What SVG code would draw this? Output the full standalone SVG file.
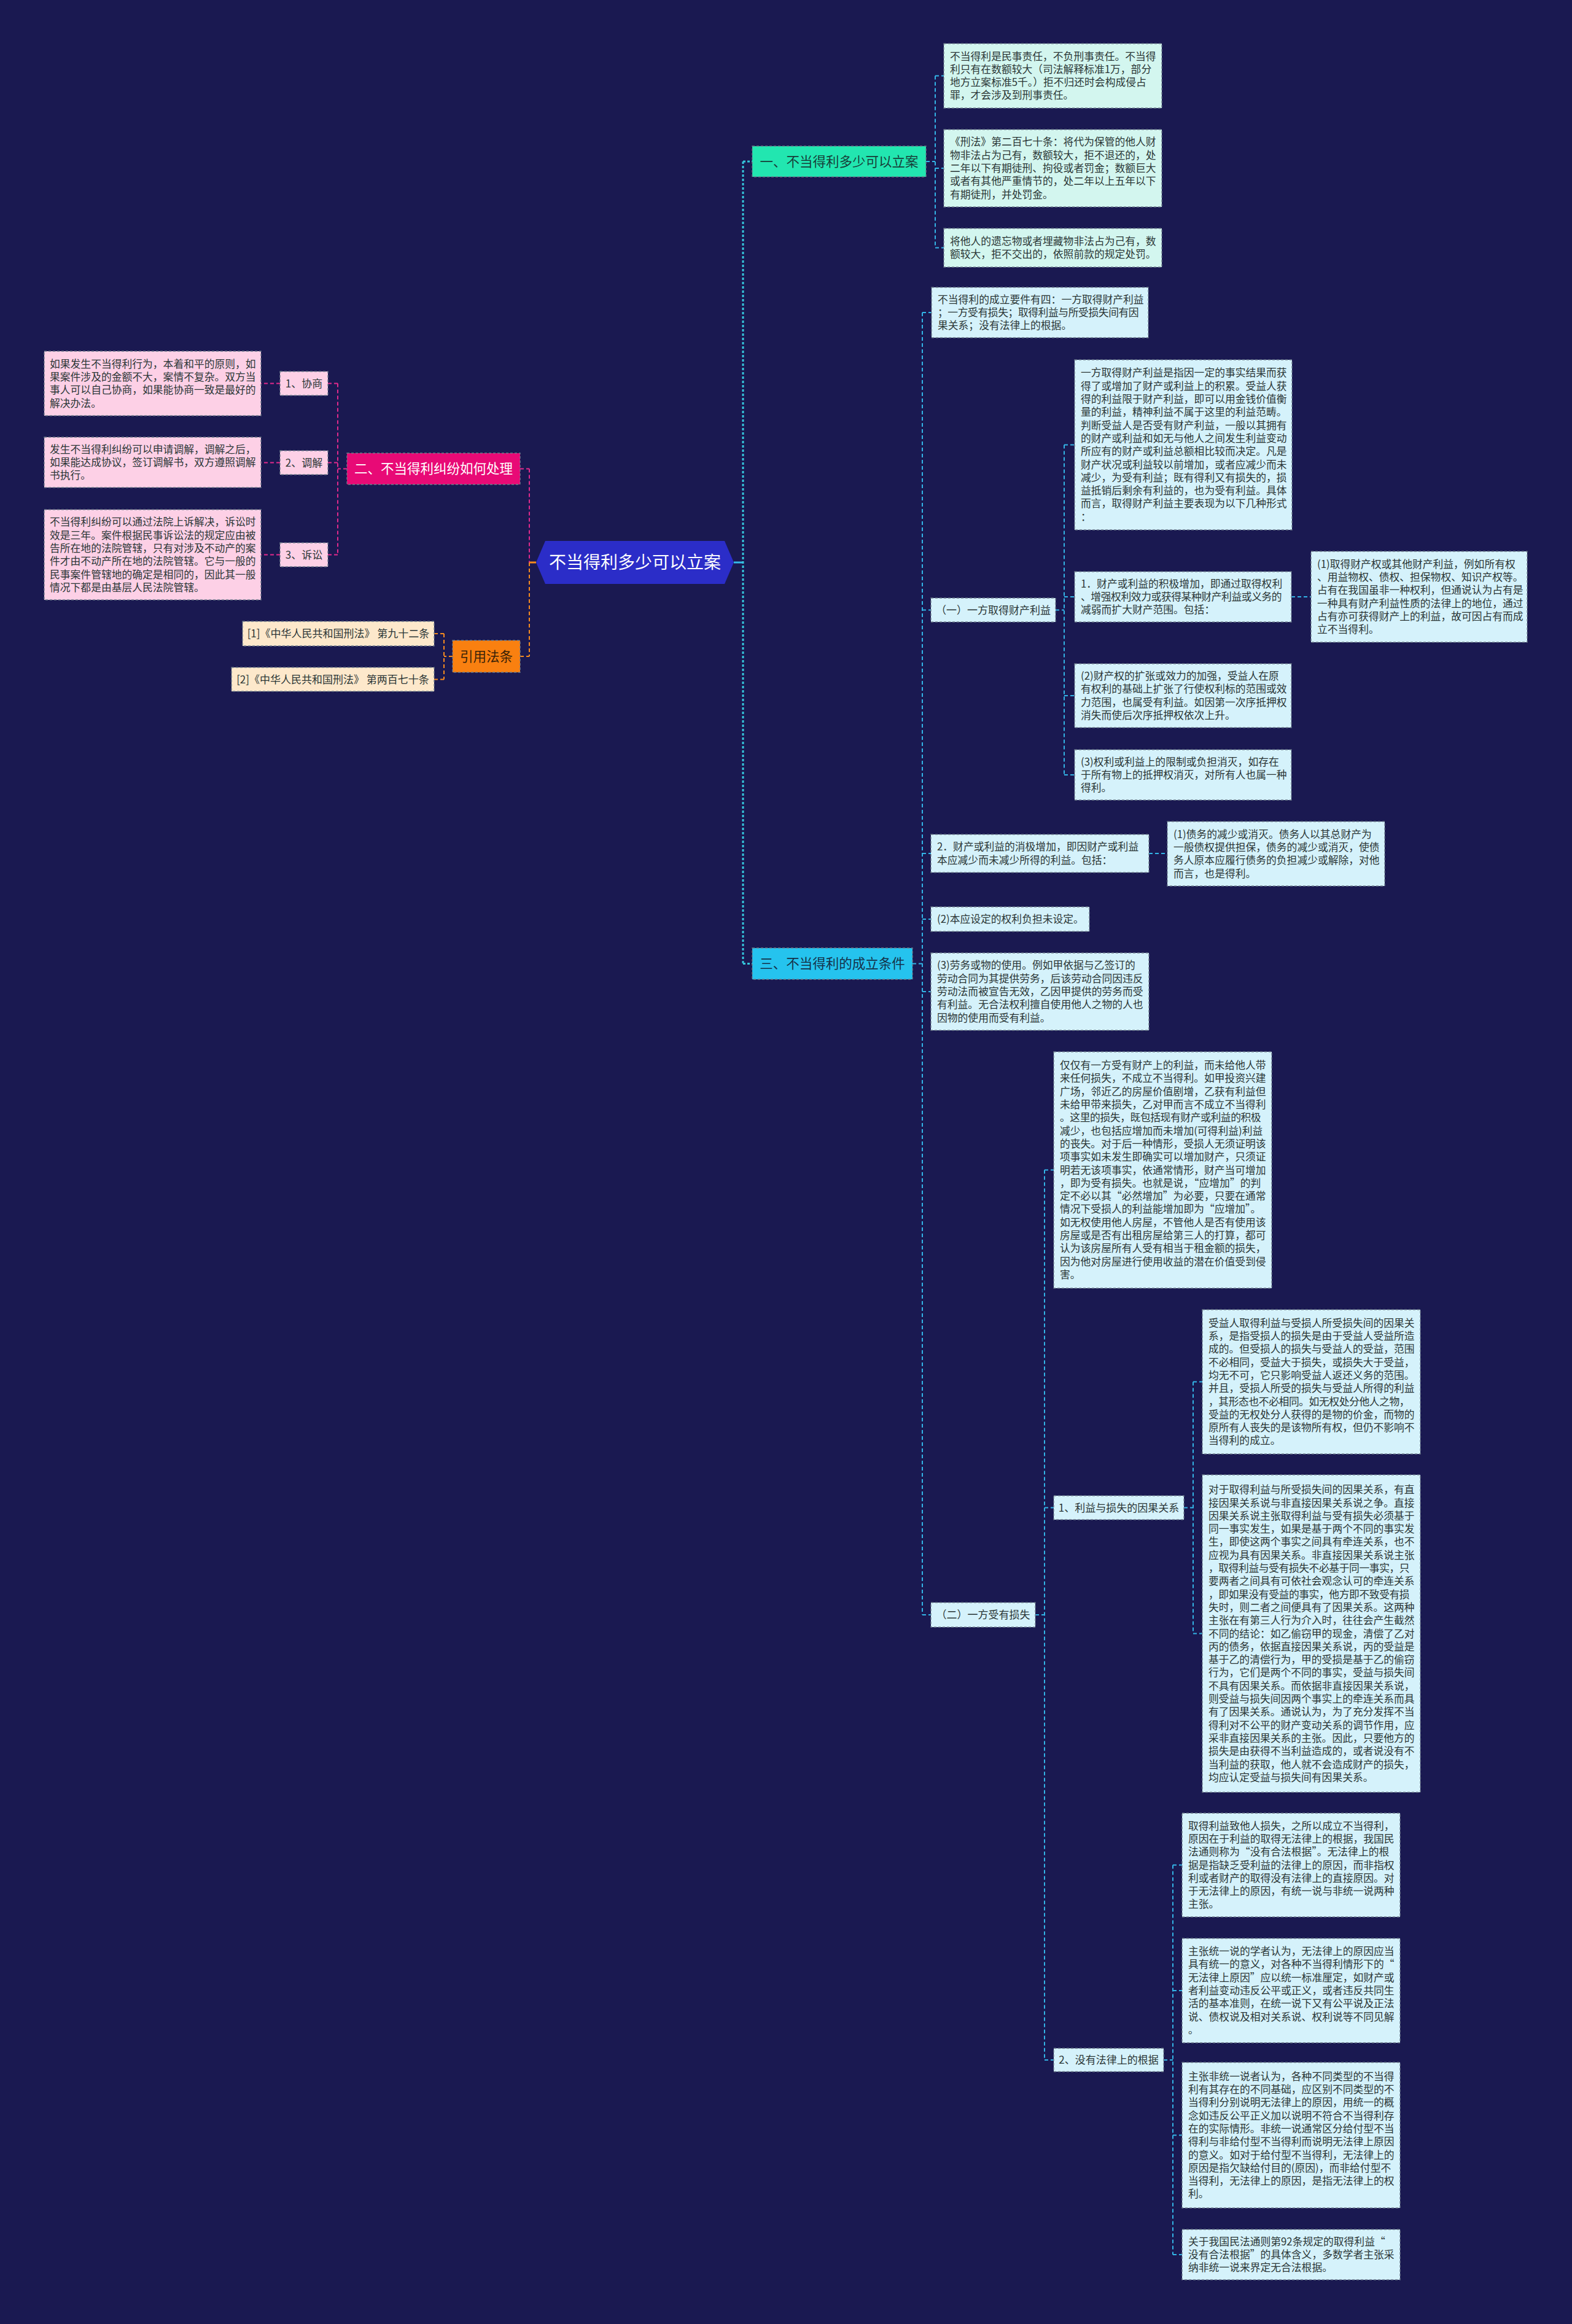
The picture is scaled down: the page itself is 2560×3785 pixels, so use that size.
<svg xmlns="http://www.w3.org/2000/svg" width="2560" height="3785" viewBox="0 0 2560 3785">
<style>
.t{font-family:"Noto Sans CJK SC","Noto Sans",sans-serif;font-size:16.8px;fill:#2b3636}
.lb{font-family:"Noto Sans CJK SC","Noto Sans",sans-serif;font-size:17px;fill:#2b3636;text-anchor:middle}
.br{font-family:"Noto Sans CJK SC","Noto Sans",sans-serif;font-size:21.5px;text-anchor:middle}
.bd{stroke:#6d7c8c;stroke-width:1.3;stroke-dasharray:4 3}
.mint{fill:#d3f6ef}
.cyan{fill:#d5f2fb}
.pink{fill:#fdd0e6}
.cream{fill:#fde8cb}
.sq{letter-spacing:-0.42px}
.cr{fill:none;stroke:#33b4e6;stroke-width:2;stroke-dasharray:6 4}
.ct{fill:none;stroke:#35c6dc;stroke-width:3;stroke-dasharray:4 3}
.cm{fill:none;stroke:#e22a8c;stroke-width:2;stroke-dasharray:6 4}
.co{fill:none;stroke:#f58a1f;stroke-width:2;stroke-dasharray:6 4}
</style>
<rect x="0" y="0" width="2560" height="3785" fill="#1a1951"/>

<g id="connectors">
  <path d="M1195,916 H1210" fill="none" stroke="#35b9ea" stroke-width="3"/>
  <path class="ct" d="M1210,263 V1569.5 M1210,263 H1225 M1210,1569.5 H1225"/>
  <path class="cr" d="M1508,263 H1523 M1523,123.5 V403.5 M1523,123.5 H1537 M1523,274 H1537 M1523,403.5 H1537"/>
  <path class="cr" d="M1486,1569.5 H1502 M1502,509 V2630 M1502,509 H1517 M1502,993.5 H1516 M1502,1390 H1516 M1502,1497 H1516 M1502,1615 H1516 M1502,2630 H1516"/>
  <path class="cr" d="M1719,993.5 H1733 M1733,724.5 V1262 M1733,724.5 H1750 M1733,972 H1750 M1733,1133 H1750 M1733,1262 H1750"/>
  <path class="cr" d="M2103,972 H2135"/>
  <path class="cr" d="M1871,1390 H1901"/>
  <path class="cr" d="M1686,2630 H1701 M1701,1905.5 V3355 M1701,1905.5 H1716 M1701,2455.5 H1716 M1701,3355 H1716"/>
  <path class="cr" d="M1928,2455.5 H1943 M1943,2250.5 V2660.5 M1943,2250.5 H1958 M1943,2660.5 H1958"/>
  <path class="cr" d="M1895,3355 H1910 M1910,3037.5 V3672 M1910,3037.5 H1925 M1910,3242 H1925 M1910,3477.5 H1925 M1910,3672 H1925"/>
  <path d="M873,916 H862" fill="none" stroke="#f58a1f" stroke-width="3"/>
  <path class="cm" d="M862,763.5 V916 M847,763.5 H862"/>
  <path class="co" d="M862,916 V1069 M847,1069 H862"/>
  <path class="cm" d="M565,763.5 H550 M550,624.5 V903.5 M550,624.5 H534 M550,753.5 H534 M550,903.5 H534 M456,624.5 H425 M456,753.5 H425 M456,903.5 H425"/>
  <path class="co" d="M737,1069 H723 M723,1032 V1106.5 M723,1032 H707 M723,1106.5 H707"/>
</g>

<g id="root">
  <polygon points="873,916 888,881 1180,881 1195,916 1180,951 888,951" fill="#2b2dc8"/>
  <text x="1034" y="926" font-family="Noto Sans CJK SC, Noto Sans, sans-serif" font-size="28" fill="#ffffff" text-anchor="middle">不当得利多少可以立案</text>
</g>

<g id="branch1">
  <rect class="bd" x="1225" y="238" width="283" height="50" fill="#22e6b0"/>
  <text class="br" x="1366.5" y="270.5" fill="#17403a">一、不当得利多少可以立案</text>
</g>
<g id="branch3">
  <rect class="bd" x="1225" y="1544" width="261" height="51" fill="#25c3ee"/>
  <text class="br" x="1355.5" y="1577" fill="#15324a">三、不当得利的成立条件</text>
</g>
<g id="branch2">
  <rect class="bd" x="565" y="738" width="282" height="51" fill="#e80a76"/>
  <text class="br" x="706" y="771" fill="#ffffff">二、不当得利纠纷如何处理</text>
</g>
<g id="branch-law">
  <rect class="bd" x="737" y="1043" width="110" height="52" fill="#f98010"/>
  <text class="br" x="792" y="1076.5" fill="#3a2208">引用法条</text>
</g>

<g id="n-1a">
  <rect class="bd mint" x="1537" y="71" width="355" height="105"/>
  <text class="t" x="1547" y="97.5"><tspan x="1547">不当得利是民事责任，不负刑事责任。不当得</tspan><tspan x="1547" dy="21.3">利只有在数额较大（司法解释标准1万，部分</tspan><tspan x="1547" dy="21.3">地方立案标准5千。）拒不归还时会构成侵占</tspan><tspan x="1547" dy="21.3">罪，才会涉及到刑事责任。</tspan></text>
</g>
<g id="n-1b">
  <rect class="bd mint" x="1537" y="211" width="355" height="126"/>
  <text class="t" x="1547" y="237.4"><tspan x="1547">《刑法》第二百七十条：将代为保管的他人财</tspan><tspan x="1547" dy="21.3">物非法占为己有，数额较大，拒不退还的，处</tspan><tspan x="1547" dy="21.3">二年以下有期徒刑、拘役或者罚金；数额巨大</tspan><tspan x="1547" dy="21.3">或者有其他严重情节的，处二年以上五年以下</tspan><tspan x="1547" dy="21.3">有期徒刑，并处罚金。</tspan></text>
</g>
<g id="n-1c">
  <rect class="bd mint" x="1537" y="372" width="355" height="63"/>
  <text class="t" x="1547" y="398.9"><tspan x="1547">将他人的遗忘物或者埋藏物非法占为己有，数</tspan><tspan x="1547" dy="21.3">额较大，拒不交出的，依照前款的规定处罚。</tspan></text>
</g>

<g id="n-3a">
  <rect class="bd cyan" x="1517" y="468" width="353" height="82"/>
  <text class="t" x="1527" y="493.7"><tspan x="1527">不当得利的成立要件有四：一方取得财产利益</tspan><tspan x="1527" dy="21.3" class="sq">；一方受有损失；取得利益与所受损失间有因</tspan><tspan x="1527" dy="21.3">果关系；没有法律上的根据。</tspan></text>
</g>
<g id="n-3-yi">
  <rect class="bd cyan" x="1516" y="974" width="203" height="39"/>
  <text class="lb" x="1617.5" y="999.5">（一）一方取得财产利益</text>
</g>
<g id="n-3b">
  <rect class="bd cyan" x="1750" y="586" width="354" height="277"/>
  <text class="t" x="1760" y="613.4"><tspan x="1760">一方取得财产利益是指因一定的事实结果而获</tspan><tspan x="1760" dy="21.3">得了或增加了财产或利益上的积累。受益人获</tspan><tspan x="1760" dy="21.3">得的利益限于财产利益，即可以用金钱价值衡</tspan><tspan x="1760" dy="21.3">量的利益，精神利益不属于这里的利益范畴。</tspan><tspan x="1760" dy="21.3">判断受益人是否受有财产利益，一般以其拥有</tspan><tspan x="1760" dy="21.3">的财产或利益和如无与他人之间发生利益变动</tspan><tspan x="1760" dy="21.3">所应有的财产或利益总额相比较而决定。凡是</tspan><tspan x="1760" dy="21.3">财产状况或利益较以前增加，或者应减少而未</tspan><tspan x="1760" dy="21.3">减少，为受有利益；既有得利又有损失的，损</tspan><tspan x="1760" dy="21.3">益抵销后剩余有利益的，也为受有利益。具体</tspan><tspan x="1760" dy="21.3">而言，取得财产利益主要表现为以下几种形式</tspan><tspan x="1760" dy="21.3">：</tspan></text>
</g>
<g id="n-3c">
  <rect class="bd cyan" x="1750" y="931" width="353" height="82"/>
  <text class="t" x="1760" y="956.7"><tspan x="1760">1．财产或利益的积极增加，即通过取得权利</tspan><tspan x="1760" dy="21.3" class="sq">、增强权利效力或获得某种财产利益或义务的</tspan><tspan x="1760" dy="21.3">减弱而扩大财产范围。包括：</tspan></text>
</g>
<g id="n-3d">
  <rect class="bd cyan" x="2135" y="898" width="352" height="148"/>
  <text class="t" x="2145" y="924.8"><tspan x="2145">(1)取得财产权或其他财产利益，例如所有权</tspan><tspan x="2145" dy="21.3">、用益物权、债权、担保物权、知识产权等。</tspan><tspan x="2145" dy="21.3">占有在我国虽非一种权利，但通说认为占有是</tspan><tspan x="2145" dy="21.3">一种具有财产利益性质的法律上的地位，通过</tspan><tspan x="2145" dy="21.3">占有亦可获得财产上的利益，故可因占有而成</tspan><tspan x="2145" dy="21.3">立不当得利。</tspan></text>
</g>
<g id="n-3e">
  <rect class="bd cyan" x="1750" y="1081" width="353" height="104"/>
  <text class="t" x="1760" y="1107"><tspan x="1760">(2)财产权的扩张或效力的加强，受益人在原</tspan><tspan x="1760" dy="21.3">有权利的基础上扩张了行使权利标的范围或效</tspan><tspan x="1760" dy="21.3">力范围，也属受有利益。如因第一次序抵押权</tspan><tspan x="1760" dy="21.3">消失而使后次序抵押权依次上升。</tspan></text>
</g>
<g id="n-3f">
  <rect class="bd cyan" x="1750" y="1221" width="353" height="82"/>
  <text class="t" x="1760" y="1246.7"><tspan x="1760">(3)权利或利益上的限制或负担消灭，如存在</tspan><tspan x="1760" dy="21.3">于所有物上的抵押权消灭，对所有人也属一种</tspan><tspan x="1760" dy="21.3">得利。</tspan></text>
</g>
<g id="n-3g">
  <rect class="bd cyan" x="1516" y="1359" width="355" height="62"/>
  <text class="t" x="1526" y="1385.4"><tspan x="1526">2．财产或利益的消极增加，即因财产或利益</tspan><tspan x="1526" dy="21.3">本应减少而未减少所得的利益。包括：</tspan></text>
</g>
<g id="n-3h">
  <rect class="bd cyan" x="1901" y="1338" width="354" height="105"/>
  <text class="t" x="1911" y="1364.6"><tspan x="1911">(1)债务的减少或消灭。债务人以其总财产为</tspan><tspan x="1911" dy="21.3">一般债权提供担保，债务的减少或消灭，使债</tspan><tspan x="1911" dy="21.3">务人原本应履行债务的负担减少或解除，对他</tspan><tspan x="1911" dy="21.3">而言，也是得利。</tspan></text>
</g>
<g id="n-3i">
  <rect class="bd cyan" x="1516" y="1477" width="258" height="40"/>
  <text class="t" x="1526" y="1503">(2)本应设定的权利负担未设定。</text>
</g>
<g id="n-3j">
  <rect class="bd cyan" x="1516" y="1552" width="355" height="126"/>
  <text class="t" x="1526" y="1578.4"><tspan x="1526">(3)劳务或物的使用。例如甲依据与乙签订的</tspan><tspan x="1526" dy="21.3">劳动合同为其提供劳务，后该劳动合同因违反</tspan><tspan x="1526" dy="21.3">劳动法而被宣告无效，乙因甲提供的劳务而受</tspan><tspan x="1526" dy="21.3">有利益。无合法权利擅自使用他人之物的人也</tspan><tspan x="1526" dy="21.3">因物的使用而受有利益。</tspan></text>
</g>
<g id="n-3-er">
  <rect class="bd cyan" x="1516" y="2610" width="170" height="40"/>
  <text class="lb" x="1601" y="2636">（二）一方受有损失</text>
</g>
<g id="n-3k">
  <rect class="bd cyan" x="1716" y="1713" width="355" height="385"/>
  <text class="t" x="1726" y="1741.1"><tspan x="1726">仅仅有一方受有财产上的利益，而未给他人带</tspan><tspan x="1726" dy="21.3">来任何损失，不成立不当得利。如甲投资兴建</tspan><tspan x="1726" dy="21.3">广场，邻近乙的房屋价值剧增，乙获有利益但</tspan><tspan x="1726" dy="21.3">未给甲带来损失，乙对甲而言不成立不当得利</tspan><tspan x="1726" dy="21.3" class="sq">。这里的损失，既包括现有财产或利益的积极</tspan><tspan x="1726" dy="21.3">减少，也包括应增加而未增加(可得利益)利益</tspan><tspan x="1726" dy="21.3">的丧失。对于后一种情形，受损人无须证明该</tspan><tspan x="1726" dy="21.3">项事实如未发生即确实可以增加财产，只须证</tspan><tspan x="1726" dy="21.3">明若无该项事实，依通常情形，财产当可增加</tspan><tspan x="1726" dy="21.3">，即为受有损失。也就是说，“应增加”的判</tspan><tspan x="1726" dy="21.3">定不必以其“必然增加”为必要，只要在通常</tspan><tspan x="1726" dy="21.3">情况下受损人的利益能增加即为“应增加”。</tspan><tspan x="1726" dy="21.3">如无权使用他人房屋，不管他人是否有使用该</tspan><tspan x="1726" dy="21.3">房屋或是否有出租房屋给第三人的打算，都可</tspan><tspan x="1726" dy="21.3">认为该房屋所有人受有相当于租金额的损失，</tspan><tspan x="1726" dy="21.3">因为他对房屋进行使用收益的潜在价值受到侵</tspan><tspan x="1726" dy="21.3">害。</tspan></text>
</g>
<g id="n-3-l1">
  <rect class="bd cyan" x="1716" y="2436" width="212" height="39"/>
  <text class="lb" x="1822" y="2461.5">1、利益与损失的因果关系</text>
</g>
<g id="n-3l">
  <rect class="bd cyan" x="1958" y="2133" width="355" height="235"/>
  <text class="t" x="1968" y="2160.7"><tspan x="1968">受益人取得利益与受损人所受损失间的因果关</tspan><tspan x="1968" dy="21.3">系，是指受损人的损失是由于受益人受益所造</tspan><tspan x="1968" dy="21.3">成的。但受损人的损失与受益人的受益，范围</tspan><tspan x="1968" dy="21.3">不必相同，受益大于损失，或损失大于受益，</tspan><tspan x="1968" dy="21.3">均无不可，它只影响受益人返还义务的范围。</tspan><tspan x="1968" dy="21.3">并且，受损人所受的损失与受益人所得的利益</tspan><tspan x="1968" dy="21.3" class="sq">，其形态也不必相同。如无权处分他人之物，</tspan><tspan x="1968" dy="21.3">受益的无权处分人获得的是物的价金，而物的</tspan><tspan x="1968" dy="21.3">原所有人丧失的是该物所有权，但仍不影响不</tspan><tspan x="1968" dy="21.3">当得利的成立。</tspan></text>
</g>
<g id="n-3m">
  <rect class="bd cyan" x="1958" y="2402" width="355" height="517"/>
  <text class="t" x="1968" y="2432.2"><tspan x="1968">对于取得利益与所受损失间的因果关系，有直</tspan><tspan x="1968" dy="21.3">接因果关系说与非直接因果关系说之争。直接</tspan><tspan x="1968" dy="21.3">因果关系说主张取得利益与受有损失必须基于</tspan><tspan x="1968" dy="21.3">同一事实发生，如果是基于两个不同的事实发</tspan><tspan x="1968" dy="21.3">生，即使这两个事实之间具有牵连关系，也不</tspan><tspan x="1968" dy="21.3">应视为具有因果关系。非直接因果关系说主张</tspan><tspan x="1968" dy="21.3" class="sq">，取得利益与受有损失不必基于同一事实，只</tspan><tspan x="1968" dy="21.3">要两者之间具有可依社会观念认可的牵连关系</tspan><tspan x="1968" dy="21.3" class="sq">，即如果没有受益的事实，他方即不致受有损</tspan><tspan x="1968" dy="21.3">失时，则二者之间便具有了因果关系。这两种</tspan><tspan x="1968" dy="21.3">主张在有第三人行为介入时，往往会产生截然</tspan><tspan x="1968" dy="21.3">不同的结论：如乙偷窃甲的现金，清偿了乙对</tspan><tspan x="1968" dy="21.3">丙的债务，依据直接因果关系说，丙的受益是</tspan><tspan x="1968" dy="21.3">基于乙的清偿行为，甲的受损是基于乙的偷窃</tspan><tspan x="1968" dy="21.3">行为，它们是两个不同的事实，受益与损失间</tspan><tspan x="1968" dy="21.3">不具有因果关系。而依据非直接因果关系说，</tspan><tspan x="1968" dy="21.3">则受益与损失间因两个事实上的牵连关系而具</tspan><tspan x="1968" dy="21.3">有了因果关系。通说认为，为了充分发挥不当</tspan><tspan x="1968" dy="21.3">得利对不公平的财产变动关系的调节作用，应</tspan><tspan x="1968" dy="21.3">采非直接因果关系的主张。因此，只要他方的</tspan><tspan x="1968" dy="21.3">损失是由获得不当利益造成的，或者说没有不</tspan><tspan x="1968" dy="21.3">当利益的获取，他人就不会造成财产的损失，</tspan><tspan x="1968" dy="21.3">均应认定受益与损失间有因果关系。</tspan></text>
</g>
<g id="n-3-l2">
  <rect class="bd cyan" x="1716" y="3336" width="179" height="38"/>
  <text class="lb" x="1805.5" y="3361">2、没有法律上的根据</text>
</g>
<g id="n-3n">
  <rect class="bd cyan" x="1925" y="2953" width="355" height="169"/>
  <text class="t" x="1935" y="2979.6"><tspan x="1935">取得利益致他人损失，之所以成立不当得利，</tspan><tspan x="1935" dy="21.3">原因在于利益的取得无法律上的根据，我国民</tspan><tspan x="1935" dy="21.3">法通则称为“没有合法根据”。无法律上的根</tspan><tspan x="1935" dy="21.3">据是指缺乏受利益的法律上的原因，而非指权</tspan><tspan x="1935" dy="21.3">利或者财产的取得没有法律上的直接原因。对</tspan><tspan x="1935" dy="21.3">于无法律上的原因，有统一说与非统一说两种</tspan><tspan x="1935" dy="21.3">主张。</tspan></text>
</g>
<g id="n-3o">
  <rect class="bd cyan" x="1925" y="3157" width="355" height="170"/>
  <text class="t" x="1935" y="3184.1"><tspan x="1935">主张统一说的学者认为，无法律上的原因应当</tspan><tspan x="1935" dy="21.3">具有统一的意义，对各种不当得利情形下的“</tspan><tspan x="1935" dy="21.3">无法律上原因”应以统一标准厘定，如财产或</tspan><tspan x="1935" dy="21.3">者利益变动违反公平或正义，或者违反共同生</tspan><tspan x="1935" dy="21.3">活的基本准则，在统一说下又有公平说及正法</tspan><tspan x="1935" dy="21.3">说、债权说及相对关系说、权利说等不同见解</tspan><tspan x="1935" dy="21.3">。</tspan></text>
</g>
<g id="n-3p">
  <rect class="bd cyan" x="1925" y="3359" width="355" height="237"/>
  <text class="t" x="1935" y="3387.7"><tspan x="1935">主张非统一说者认为，各种不同类型的不当得</tspan><tspan x="1935" dy="21.3">利有其存在的不同基础，应区别不同类型的不</tspan><tspan x="1935" dy="21.3">当得利分别说明无法律上的原因，用统一的概</tspan><tspan x="1935" dy="21.3">念如违反公平正义加以说明不符合不当得利存</tspan><tspan x="1935" dy="21.3">在的实际情形。非统一说通常区分给付型不当</tspan><tspan x="1935" dy="21.3">得利与非给付型不当得利而说明无法律上原因</tspan><tspan x="1935" dy="21.3">的意义。如对于给付型不当得利，无法律上的</tspan><tspan x="1935" dy="21.3">原因是指欠缺给付目的(原因)，而非给付型不</tspan><tspan x="1935" dy="21.3">当得利，无法律上的原因，是指无法律上的权</tspan><tspan x="1935" dy="21.3">利。</tspan></text>
</g>
<g id="n-3q">
  <rect class="bd cyan" x="1925" y="3631" width="355" height="82"/>
  <text class="t" x="1935" y="3656.7"><tspan x="1935">关于我国民法通则第92条规定的取得利益“</tspan><tspan x="1935" dy="21.3">没有合法根据”的具体含义，多数学者主张采</tspan><tspan x="1935" dy="21.3">纳非统一说来界定无合法根据。</tspan></text>
</g>

<g id="n-2-i1">
  <rect class="bd pink" x="456" y="605" width="78" height="39"/>
  <text class="lb" x="495" y="630.5">1、协商</text>
</g>
<g id="n-2-i2">
  <rect class="bd pink" x="456" y="734" width="78" height="39"/>
  <text class="lb" x="495" y="759.5">2、调解</text>
</g>
<g id="n-2-i3">
  <rect class="bd pink" x="456" y="884" width="78" height="39"/>
  <text class="lb" x="495" y="909.5">3、诉讼</text>
</g>
<g id="n-2a">
  <rect class="bd pink" x="72" y="572" width="353" height="105"/>
  <text class="t" x="81" y="598.6"><tspan x="81">如果发生不当得利行为，本着和平的原则，如</tspan><tspan x="81" dy="21.3">果案件涉及的金额不大，案情不复杂。双方当</tspan><tspan x="81" dy="21.3">事人可以自己协商，如果能协商一致是最好的</tspan><tspan x="81" dy="21.3">解决办法。</tspan></text>
</g>
<g id="n-2b">
  <rect class="bd pink" x="72" y="712" width="353" height="82"/>
  <text class="t" x="81" y="737.7"><tspan x="81">发生不当得利纠纷可以申请调解，调解之后，</tspan><tspan x="81" dy="21.3">如果能达成协议，签订调解书，双方遵照调解</tspan><tspan x="81" dy="21.3">书执行。</tspan></text>
</g>
<g id="n-2c">
  <rect class="bd pink" x="72" y="830" width="353" height="147"/>
  <text class="t" x="81" y="856.3"><tspan x="81">不当得利纠纷可以通过法院上诉解决，诉讼时</tspan><tspan x="81" dy="21.3">效是三年。案件根据民事诉讼法的规定应由被</tspan><tspan x="81" dy="21.3">告所在地的法院管辖，只有对涉及不动产的案</tspan><tspan x="81" dy="21.3">件才由不动产所在地的法院管辖。它与一般的</tspan><tspan x="81" dy="21.3">民事案件管辖地的确定是相同的，因此其一般</tspan><tspan x="81" dy="21.3">情况下都是由基层人民法院管辖。</tspan></text>
</g>
<g id="n-law1">
  <rect class="bd cream" x="395" y="1012" width="312" height="40"/>
  <text class="lb" x="551" y="1038" fill="#3a2a18">[1]《中华人民共和国刑法》 第九十二条</text>
</g>
<g id="n-law2">
  <rect class="bd cream" x="377" y="1087" width="330" height="39"/>
  <text class="lb" x="542" y="1112.5" fill="#3a2a18">[2]《中华人民共和国刑法》 第两百七十条</text>
</g>
</svg>
